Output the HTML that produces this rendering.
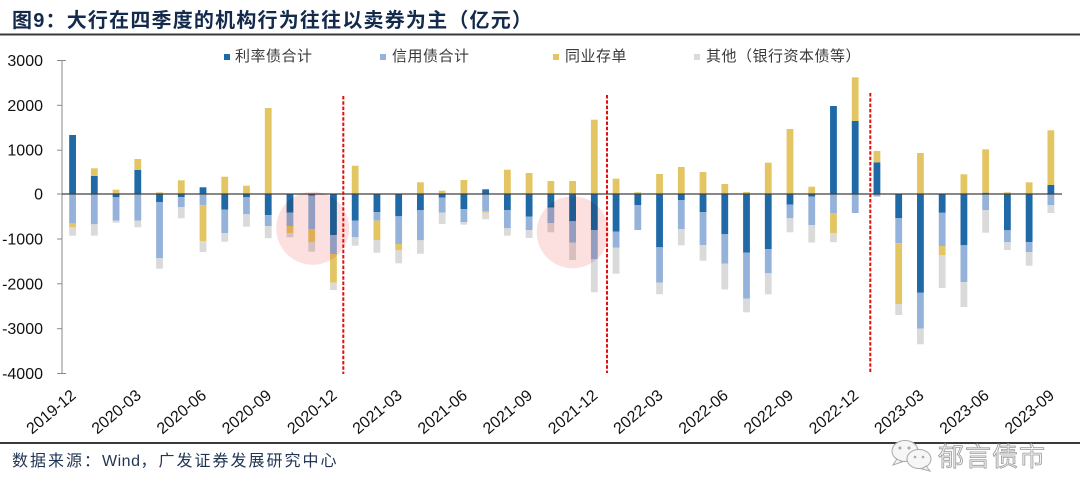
<!DOCTYPE html>
<html><head><meta charset="utf-8"><style>
html,body{margin:0;padding:0;background:#fff;}
body{width:1080px;height:497px;overflow:hidden;}
svg{display:block;font-family:"Liberation Sans","Noto Sans CJK SC",sans-serif;}
.B{fill:#1f69a6}.L{fill:#95b3da}.Y{fill:#e3c663}.G{fill:#dadada}
</style></head><body>
<svg width="1080" height="497" viewBox="0 0 1080 497" xmlns="http://www.w3.org/2000/svg">
<rect width="1080" height="497" fill="#fff"/>
<text x="12" y="27" font-size="20" font-weight="bold" fill="#142a4c" letter-spacing="1.2">图9：大行在四季度的机构行为往往以卖券为主（亿元）</text>
<rect x="0" y="33.5" width="1080" height="2" fill="#3a3a3a"/>

<!-- legend -->
<g font-size="15" fill="#3a3a3a" letter-spacing="0.5">
<rect x="224" y="54" width="6" height="6" class="B"/><text x="235" y="61">利率债合计</text>
<rect x="380" y="54" width="6" height="6" class="L"/><text x="392" y="61">信用债合计</text>
<rect x="553" y="54" width="6" height="6" class="Y"/><text x="565" y="61">同业存单</text>
<rect x="694" y="54" width="6" height="6" class="G"/><text x="706" y="61">其他（银行资本债等）</text>
</g>

<!-- y axis -->
<line x1="62" y1="60" x2="62" y2="373.6" stroke="#8a8a8a" stroke-width="1"/>
<g stroke="#8a8a8a" stroke-width="1">
<line x1="57" y1="60.5" x2="66" y2="60.5"/><line x1="57" y1="105.3" x2="62" y2="105.3"/>
<line x1="57" y1="150.2" x2="62" y2="150.2"/><line x1="57" y1="194" x2="62" y2="194"/>
<line x1="57" y1="239" x2="62" y2="239"/><line x1="57" y1="283.8" x2="62" y2="283.8"/>
<line x1="57" y1="328.7" x2="62" y2="328.7"/><line x1="57" y1="373.5" x2="66" y2="373.5"/>
</g>
<g font-size="16" fill="#111" text-anchor="end">
<text x="43" y="66">3000</text><text x="43" y="111">2000</text><text x="43" y="155.7">1000</text>
<text x="43" y="199.5">0</text><text x="43" y="244.5">-1000</text><text x="43" y="289.3">-2000</text>
<text x="43" y="334.2">-3000</text><text x="43" y="379">-4000</text>
</g>

<!-- bars -->
<g>
<g transform="translate(72.57,0)"><rect class="B" x="-3.4" width="6.8" y="135" height="59"/><rect class="L" x="-3.4" width="6.8" y="194" height="29"/><rect class="Y" x="-3.4" width="6.8" y="223" height="4.3"/><rect class="G" x="-3.4" width="6.8" y="227.3" height="8.4"/></g>
<g transform="translate(94.31,0)"><rect class="B" x="-3.4" width="6.8" y="176" height="18"/><rect class="Y" x="-3.4" width="6.8" y="168.3" height="7.7"/><rect class="L" x="-3.4" width="6.8" y="194" height="30.3"/><rect class="G" x="-3.4" width="6.8" y="224.3" height="11.4"/></g>
<g transform="translate(116.05,0)"><rect class="Y" x="-3.4" width="6.8" y="189.7" height="4.3"/><rect class="B" x="-3.4" width="6.8" y="194" height="3.3"/><rect class="L" x="-3.4" width="6.8" y="197.3" height="23.4"/><rect class="G" x="-3.4" width="6.8" y="220.7" height="2"/></g>
<g transform="translate(137.79,0)"><rect class="B" x="-3.4" width="6.8" y="170" height="24"/><rect class="Y" x="-3.4" width="6.8" y="159" height="11"/><rect class="L" x="-3.4" width="6.8" y="194" height="26.7"/><rect class="G" x="-3.4" width="6.8" y="220.7" height="6.6"/></g>
<g transform="translate(159.53,0)"><rect class="Y" x="-3.4" width="6.8" y="192.3" height="1.7"/><rect class="B" x="-3.4" width="6.8" y="194" height="8"/><rect class="L" x="-3.4" width="6.8" y="202" height="56"/><rect class="G" x="-3.4" width="6.8" y="258" height="10.7"/></g>
<g transform="translate(181.27,0)"><rect class="Y" x="-3.4" width="6.8" y="180.3" height="13.7"/><rect class="B" x="-3.4" width="6.8" y="194" height="3"/><rect class="L" x="-3.4" width="6.8" y="197" height="10"/><rect class="G" x="-3.4" width="6.8" y="207" height="11.3"/></g>
<g transform="translate(203.01,0)"><rect class="B" x="-3.4" width="6.8" y="187.3" height="6.7"/><rect class="L" x="-3.4" width="6.8" y="194" height="11.3"/><rect class="Y" x="-3.4" width="6.8" y="205.3" height="36"/><rect class="G" x="-3.4" width="6.8" y="241.3" height="10.7"/></g>
<g transform="translate(224.75,0)"><rect class="Y" x="-3.4" width="6.8" y="176.7" height="17.3"/><rect class="B" x="-3.4" width="6.8" y="194" height="15.7"/><rect class="L" x="-3.4" width="6.8" y="209.7" height="23.3"/><rect class="G" x="-3.4" width="6.8" y="233" height="8.7"/></g>
<g transform="translate(246.49,0)"><rect class="Y" x="-3.4" width="6.8" y="185.7" height="8.3"/><rect class="B" x="-3.4" width="6.8" y="194" height="3.3"/><rect class="L" x="-3.4" width="6.8" y="197.3" height="17"/><rect class="G" x="-3.4" width="6.8" y="214.3" height="12.4"/></g>
<g transform="translate(268.23,0)"><rect class="Y" x="-3.4" width="6.8" y="108" height="86"/><rect class="B" x="-3.4" width="6.8" y="194" height="21"/><rect class="L" x="-3.4" width="6.8" y="215" height="11"/><rect class="G" x="-3.4" width="6.8" y="226" height="12.3"/></g>
<g transform="translate(289.97,0)"><rect class="B" x="-3.4" width="6.8" y="194" height="18.7"/><rect class="L" x="-3.4" width="6.8" y="212.7" height="13.3"/><rect class="Y" x="-3.4" width="6.8" y="226" height="7"/><rect class="G" x="-3.4" width="6.8" y="233" height="4.3"/></g>
<g transform="translate(311.71,0)"><rect class="B" x="-3.4" width="6.8" y="194" height="1.7"/><rect class="L" x="-3.4" width="6.8" y="195.7" height="33.6"/><rect class="Y" x="-3.4" width="6.8" y="229.3" height="12.7"/><rect class="G" x="-3.4" width="6.8" y="242" height="9.7"/></g>
<g transform="translate(333.45,0)"><rect class="B" x="-3.4" width="6.8" y="194" height="41"/><rect class="L" x="-3.4" width="6.8" y="235" height="19"/><rect class="Y" x="-3.4" width="6.8" y="254" height="28.7"/><rect class="G" x="-3.4" width="6.8" y="282.7" height="7.3"/></g>
<g transform="translate(355.19,0)"><rect class="Y" x="-3.4" width="6.8" y="165.7" height="28.3"/><rect class="B" x="-3.4" width="6.8" y="194" height="26.7"/><rect class="L" x="-3.4" width="6.8" y="220.7" height="16.6"/><rect class="G" x="-3.4" width="6.8" y="237.3" height="8.4"/></g>
<g transform="translate(376.93,0)"><rect class="B" x="-3.4" width="6.8" y="194" height="18"/><rect class="L" x="-3.4" width="6.8" y="212" height="8.7"/><rect class="Y" x="-3.4" width="6.8" y="220.7" height="19.3"/><rect class="G" x="-3.4" width="6.8" y="240" height="12.7"/></g>
<g transform="translate(398.67,0)"><rect class="B" x="-3.4" width="6.8" y="194" height="22.3"/><rect class="L" x="-3.4" width="6.8" y="216.3" height="27.7"/><rect class="Y" x="-3.4" width="6.8" y="244" height="6.3"/><rect class="G" x="-3.4" width="6.8" y="250.3" height="13"/></g>
<g transform="translate(420.41,0)"><rect class="Y" x="-3.4" width="6.8" y="182.3" height="11.7"/><rect class="B" x="-3.4" width="6.8" y="194" height="16"/><rect class="L" x="-3.4" width="6.8" y="210" height="30.3"/><rect class="G" x="-3.4" width="6.8" y="240.3" height="13.4"/></g>
<g transform="translate(442.15,0)"><rect class="Y" x="-3.4" width="6.8" y="190.7" height="3.3"/><rect class="B" x="-3.4" width="6.8" y="194" height="3.7"/><rect class="L" x="-3.4" width="6.8" y="197.7" height="15"/><rect class="G" x="-3.4" width="6.8" y="212.7" height="11.3"/></g>
<g transform="translate(463.89,0)"><rect class="Y" x="-3.4" width="6.8" y="180" height="14"/><rect class="B" x="-3.4" width="6.8" y="194" height="15"/><rect class="L" x="-3.4" width="6.8" y="209" height="13"/><rect class="G" x="-3.4" width="6.8" y="222" height="2.7"/></g>
<g transform="translate(485.63,0)"><rect class="B" x="-3.4" width="6.8" y="189.3" height="4.7"/><rect class="L" x="-3.4" width="6.8" y="194" height="17"/><rect class="Y" x="-3.4" width="6.8" y="211" height="1.7"/><rect class="G" x="-3.4" width="6.8" y="212.7" height="6.6"/></g>
<g transform="translate(507.37,0)"><rect class="Y" x="-3.4" width="6.8" y="169.7" height="24.3"/><rect class="B" x="-3.4" width="6.8" y="194" height="16"/><rect class="L" x="-3.4" width="6.8" y="210" height="18.3"/><rect class="G" x="-3.4" width="6.8" y="228.3" height="7.4"/></g>
<g transform="translate(529.11,0)"><rect class="Y" x="-3.4" width="6.8" y="173" height="21"/><rect class="B" x="-3.4" width="6.8" y="194" height="22.7"/><rect class="L" x="-3.4" width="6.8" y="216.7" height="13.3"/><rect class="G" x="-3.4" width="6.8" y="230" height="8"/></g>
<g transform="translate(550.85,0)"><rect class="Y" x="-3.4" width="6.8" y="181" height="13"/><rect class="B" x="-3.4" width="6.8" y="194" height="13.7"/><rect class="L" x="-3.4" width="6.8" y="207.7" height="15.3"/><rect class="G" x="-3.4" width="6.8" y="223" height="9.3"/></g>
<g transform="translate(572.59,0)"><rect class="Y" x="-3.4" width="6.8" y="181" height="13"/><rect class="B" x="-3.4" width="6.8" y="194" height="27.3"/><rect class="L" x="-3.4" width="6.8" y="221.3" height="21.4"/><rect class="G" x="-3.4" width="6.8" y="242.7" height="17.3"/></g>
<g transform="translate(594.33,0)"><rect class="Y" x="-3.4" width="6.8" y="119.7" height="74.3"/><rect class="B" x="-3.4" width="6.8" y="194" height="36"/><rect class="L" x="-3.4" width="6.8" y="230" height="29.3"/><rect class="G" x="-3.4" width="6.8" y="259.3" height="33"/></g>
<g transform="translate(616.07,0)"><rect class="Y" x="-3.4" width="6.8" y="178.7" height="15.3"/><rect class="B" x="-3.4" width="6.8" y="194" height="37.7"/><rect class="L" x="-3.4" width="6.8" y="231.7" height="16"/><rect class="G" x="-3.4" width="6.8" y="247.7" height="26"/></g>
<g transform="translate(637.81,0)"><rect class="Y" x="-3.4" width="6.8" y="192.3" height="1.7"/><rect class="B" x="-3.4" width="6.8" y="194" height="11"/><rect class="L" x="-3.4" width="6.8" y="205" height="25"/></g>
<g transform="translate(659.55,0)"><rect class="Y" x="-3.4" width="6.8" y="174" height="20"/><rect class="B" x="-3.4" width="6.8" y="194" height="53.3"/><rect class="L" x="-3.4" width="6.8" y="247.3" height="35.4"/><rect class="G" x="-3.4" width="6.8" y="282.7" height="11.6"/></g>
<g transform="translate(681.29,0)"><rect class="Y" x="-3.4" width="6.8" y="167" height="27"/><rect class="B" x="-3.4" width="6.8" y="194" height="6"/><rect class="L" x="-3.4" width="6.8" y="200" height="29"/><rect class="G" x="-3.4" width="6.8" y="229" height="16.3"/></g>
<g transform="translate(703.03,0)"><rect class="Y" x="-3.4" width="6.8" y="172" height="22"/><rect class="B" x="-3.4" width="6.8" y="194" height="18"/><rect class="L" x="-3.4" width="6.8" y="212" height="33"/><rect class="G" x="-3.4" width="6.8" y="245" height="15.7"/></g>
<g transform="translate(724.77,0)"><rect class="Y" x="-3.4" width="6.8" y="184" height="10"/><rect class="B" x="-3.4" width="6.8" y="194" height="40"/><rect class="L" x="-3.4" width="6.8" y="234" height="29.7"/><rect class="G" x="-3.4" width="6.8" y="263.7" height="25.8"/></g>
<g transform="translate(746.51,0)"><rect class="Y" x="-3.4" width="6.8" y="192" height="2"/><rect class="B" x="-3.4" width="6.8" y="194" height="58.7"/><rect class="L" x="-3.4" width="6.8" y="252.7" height="46"/><rect class="G" x="-3.4" width="6.8" y="298.7" height="13.6"/></g>
<g transform="translate(768.25,0)"><rect class="Y" x="-3.4" width="6.8" y="162.7" height="31.3"/><rect class="B" x="-3.4" width="6.8" y="194" height="55"/><rect class="L" x="-3.4" width="6.8" y="249" height="24.3"/><rect class="G" x="-3.4" width="6.8" y="273.3" height="21"/></g>
<g transform="translate(789.99,0)"><rect class="Y" x="-3.4" width="6.8" y="129" height="65"/><rect class="B" x="-3.4" width="6.8" y="194" height="10.7"/><rect class="L" x="-3.4" width="6.8" y="204.7" height="13.6"/><rect class="G" x="-3.4" width="6.8" y="218.3" height="14"/></g>
<g transform="translate(811.73,0)"><rect class="Y" x="-3.4" width="6.8" y="186.7" height="7.3"/><rect class="B" x="-3.4" width="6.8" y="194" height="2.7"/><rect class="L" x="-3.4" width="6.8" y="196.7" height="28.3"/><rect class="G" x="-3.4" width="6.8" y="225" height="17.5"/></g>
<g transform="translate(833.47,0)"><rect class="B" x="-3.4" width="6.8" y="106" height="88"/><rect class="L" x="-3.4" width="6.8" y="194" height="19"/><rect class="Y" x="-3.4" width="6.8" y="213" height="20"/><rect class="G" x="-3.4" width="6.8" y="233" height="9.2"/></g>
<g transform="translate(855.21,0)"><rect class="B" x="-3.4" width="6.8" y="121" height="73"/><rect class="Y" x="-3.4" width="6.8" y="77.3" height="43.7"/><rect class="L" x="-3.4" width="6.8" y="194" height="19"/></g>
<g transform="translate(876.95,0)"><rect class="B" x="-3.4" width="6.8" y="162.3" height="31.7"/><rect class="Y" x="-3.4" width="6.8" y="151" height="11.3"/><rect class="L" x="-3.4" width="6.8" y="194" height="2.5"/></g>
<g transform="translate(898.69,0)"><rect class="B" x="-3.4" width="6.8" y="194" height="24"/><rect class="L" x="-3.4" width="6.8" y="218" height="25.2"/><rect class="Y" x="-3.4" width="6.8" y="243.2" height="60.8"/><rect class="G" x="-3.4" width="6.8" y="304" height="11"/></g>
<g transform="translate(920.43,0)"><rect class="Y" x="-3.4" width="6.8" y="153" height="41"/><rect class="B" x="-3.4" width="6.8" y="194" height="98.8"/><rect class="L" x="-3.4" width="6.8" y="292.8" height="35.9"/><rect class="G" x="-3.4" width="6.8" y="328.7" height="15.6"/></g>
<g transform="translate(942.17,0)"><rect class="B" x="-3.4" width="6.8" y="194" height="18.8"/><rect class="L" x="-3.4" width="6.8" y="212.8" height="33.2"/><rect class="Y" x="-3.4" width="6.8" y="246" height="9"/><rect class="G" x="-3.4" width="6.8" y="255" height="33"/></g>
<g transform="translate(963.91,0)"><rect class="Y" x="-3.4" width="6.8" y="174.3" height="19.7"/><rect class="B" x="-3.4" width="6.8" y="194" height="51.3"/><rect class="L" x="-3.4" width="6.8" y="245.3" height="36.7"/><rect class="G" x="-3.4" width="6.8" y="282" height="25"/></g>
<g transform="translate(985.65,0)"><rect class="B" x="-3.4" width="6.8" y="192.7" height="1.3"/><rect class="Y" x="-3.4" width="6.8" y="149.3" height="43.4"/><rect class="L" x="-3.4" width="6.8" y="194" height="16"/><rect class="G" x="-3.4" width="6.8" y="210" height="22.7"/></g>
<g transform="translate(1007.39,0)"><rect class="Y" x="-3.4" width="6.8" y="192.3" height="1.7"/><rect class="B" x="-3.4" width="6.8" y="194" height="36.3"/><rect class="L" x="-3.4" width="6.8" y="230.3" height="11.7"/><rect class="G" x="-3.4" width="6.8" y="242" height="8"/></g>
<g transform="translate(1029.13,0)"><rect class="Y" x="-3.4" width="6.8" y="182.3" height="11.7"/><rect class="B" x="-3.4" width="6.8" y="194" height="48"/><rect class="L" x="-3.4" width="6.8" y="242" height="10"/><rect class="G" x="-3.4" width="6.8" y="252" height="13.7"/></g>
<g transform="translate(1050.87,0)"><rect class="B" x="-3.4" width="6.8" y="185" height="9"/><rect class="Y" x="-3.4" width="6.8" y="130.3" height="54.7"/><rect class="L" x="-3.4" width="6.8" y="194" height="11"/><rect class="G" x="-3.4" width="6.8" y="205" height="8"/></g>
</g>

<!-- zero line -->
<line x1="62" y1="194" x2="1062" y2="194" stroke="#404040" stroke-width="1.3"/>

<!-- highlight circles -->
<circle cx="312.7" cy="228.3" r="36.5" fill="#fce0e0" style="mix-blend-mode:multiply"/>
<circle cx="572.7" cy="232.3" r="36" fill="#fce0e0" style="mix-blend-mode:multiply"/>

<!-- red dashed separators -->
<g stroke="#e01010" stroke-width="2" stroke-dasharray="3.5,1.8">
<line x1="343.3" y1="96" x2="343.3" y2="374"/>
<line x1="607" y1="95" x2="607" y2="373"/>
<line x1="870.3" y1="93" x2="870.3" y2="372"/>
</g>

<!-- x labels -->
<g font-size="16" fill="#111" text-anchor="end">
<text transform="translate(77,397) rotate(-40)">2019-12</text>
<text transform="translate(142.2,397) rotate(-40)">2020-03</text>
<text transform="translate(207.4,397) rotate(-40)">2020-06</text>
<text transform="translate(272.6,397) rotate(-40)">2020-09</text>
<text transform="translate(337.9,397) rotate(-40)">2020-12</text>
<text transform="translate(403.1,397) rotate(-40)">2021-03</text>
<text transform="translate(468.3,397) rotate(-40)">2021-06</text>
<text transform="translate(533.5,397) rotate(-40)">2021-09</text>
<text transform="translate(598.7,397) rotate(-40)">2021-12</text>
<text transform="translate(664,397) rotate(-40)">2022-03</text>
<text transform="translate(729.2,397) rotate(-40)">2022-06</text>
<text transform="translate(794.4,397) rotate(-40)">2022-09</text>
<text transform="translate(859.6,397) rotate(-40)">2022-12</text>
<text transform="translate(924.8,397) rotate(-40)">2023-03</text>
<text transform="translate(990.1,397) rotate(-40)">2023-06</text>
<text transform="translate(1055.3,397) rotate(-40)">2023-09</text>
</g>

<!-- bottom rule and source -->
<rect x="0" y="442" width="1080" height="2" fill="#3a3a3a"/>
<text x="12" y="466" font-size="16" letter-spacing="2" fill="#1f3553">数据来源：<tspan letter-spacing="0.5">Wind</tspan>，广发证券发展研究中心</text>

<!-- watermark -->
<g fill="#f6f6f6" stroke="#a8a8a8" stroke-width="1">
<ellipse cx="905" cy="451" rx="13" ry="10.5"/>
<path d="M897 459 l-4 6 l9 -3z"/>
<ellipse cx="919" cy="459" rx="12" ry="9.5"/>
<path d="M926 466 l4 5 l-8 -2z"/>
</g>
<g fill="#a8a8a8"><circle cx="900" cy="448" r="1.5"/><circle cx="909" cy="448" r="1.5"/><circle cx="915" cy="457" r="1.3"/><circle cx="923" cy="457" r="1.3"/></g>
<text x="938" y="466" font-size="26" fill="#f4f4f4" stroke="#9c9c9c" stroke-width="0.8" letter-spacing="1">郁言债市</text>
</svg>
</body></html>
